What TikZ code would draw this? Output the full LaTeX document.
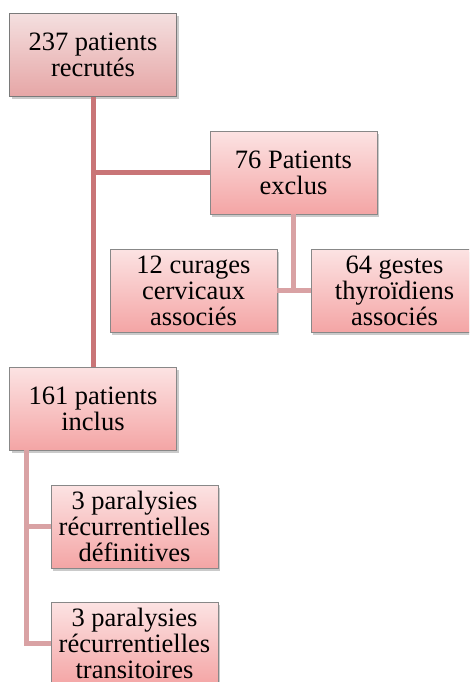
\documentclass[tikz,border=0pt]{standalone}
\usepackage{fontspec}
\newfontfamily\tms{Liberation Serif}
\usetikzlibrary{shadows}
\definecolor{topA}{HTML}{F4DFDF}
\definecolor{botA}{HTML}{E6A6A6}
\definecolor{topB}{HTML}{FCE3E3}
\definecolor{botB}{HTML}{F4A5A5}
\definecolor{edgeC}{HTML}{888888}
\definecolor{linkA}{HTML}{C97577}
\definecolor{linkB}{HTML}{D9A2A4}
\tikzset{
  box/.style={draw=edgeC, line width=0.9pt, top color=topB, bottom color=botB,
    minimum width=167pt, minimum height=83pt, inner sep=0pt, align=center,
    font=\tms\fontsize{26.5}{26}\selectfont,
    drop shadow={shadow xshift=2pt, shadow yshift=-2.5pt, opacity=0.35, fill=black!60}},
  boxA/.style={box, top color=topA, bottom color=botA, draw=edgeC!90!black},
  linkone/.style={draw=linkA, line width=5pt},
  linktwo/.style={draw=linkB, line width=5pt}
}
\begin{document}
\begin{tikzpicture}[x=1pt,y=-1pt]
\useasboundingbox (0,0) rectangle (469,682);
\begin{scope}
\clip (0,0) rectangle (469,682);
\node[boxA] (b1) at (93,55) {237 patients\\recrutés};
\node[box] (b2) at (293.5,172.5) {76 Patients\\exclus};
\node[box] (b3) at (193.5,290.5) {12 curages\\cervicaux\\associés};
\node[box] (b4) at (394.5,290.5) {64 gestes\\thyroïdiens\\associés};
\node[box] (b5) at (93,408.5) {161 patients\\inclus};
\node[box] (b6) at (134.5,526.5) {3 paralysies\\récurrentielles\\définitives};
\node[box] (b7) at (134.5,643.5) {3 paralysies\\récurrentielles\\transitoires};
\draw[linkone] (b1.south) -- (b5.north);
\draw[linkone] (b1.south |- b2.west) -- (b2.west);
\draw[linktwo] (b2.south) -- (b2.south |- b3.east);
\draw[linktwo] (b3.east) -- (b4.west);
\coordinate (t) at ([xshift=17pt]b5.south west);
\draw[linktwo] (t) |- (b7.west);
\draw[linktwo] (t |- b6.west) -- (b6.west);
\end{scope}
\end{tikzpicture}
\end{document}
